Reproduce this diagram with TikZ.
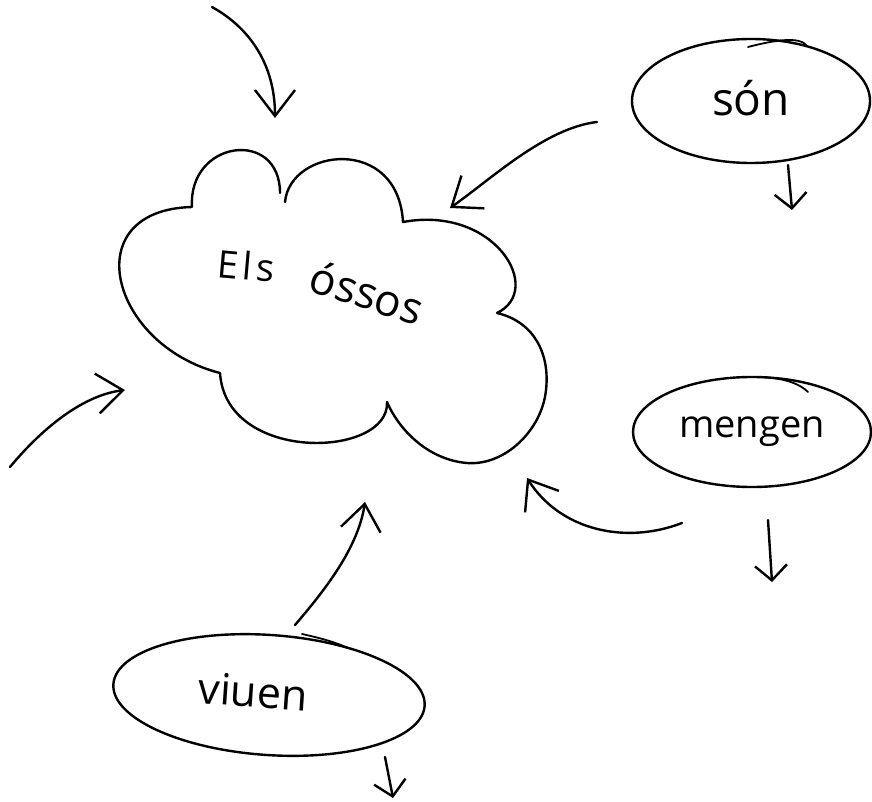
\documentclass[tikz,border=0pt]{standalone}
\usepackage{fontspec}
\setmainfont{Open Sans}
\usetikzlibrary{arrows.meta,shapes.geometric}
\begin{document}
\begin{tikzpicture}[x=1pt,y=-1pt,
  pen/.style={line width=2.4pt, line cap=round, line join=round},
  bigarr/.style={pen, -{Straight Barb[length=26pt,width=40pt]}},
  downarr/.style={pen, -{Straight Barb[length=15pt,width=32pt]}},
  bubble/.style={pen, draw, ellipse, inner sep=0pt},
  word/.style={font=\fontsize{38}{40}\selectfont, inner sep=0pt}]
\fill[white] (0,0) rectangle (872,802);
\useasboundingbox (0,0) rectangle (872,802);

% cloud
\draw[pen] (192,207) .. controls (188,140) and (280,128) .. (280,193)
  (285,202) .. controls (290,148) and (398,135) .. (403,222)
  .. controls (495,205) and (545,290) .. (497,313)
  .. controls (535,322) and (550,355) .. (546,390)
  .. controls (542,430) and (505,466) .. (467,463)
  .. controls (430,460) and (400,432) .. (387,402)
  .. controls (390,458) and (226,464) .. (220,373)
  .. controls (110,345) and (75,210) .. (192,207);
\node[word, font=\fontsize{38}{40}\selectfont\addfontfeature{LetterSpace=12}, rotate=-5, anchor=base] (els) at (245,280) {Els};
\node[word, font=\fontsize{44}{46}\selectfont, rotate=-18, anchor=base] (ossos) at (362,308) {óssos};

% ellipses
\node[bubble, minimum width=238pt, minimum height=124pt, word, font=\fontsize{46}{48}\selectfont] (son) at (751,101) {\raisebox{7pt}{són}};
\node[bubble, minimum width=238pt, minimum height=110pt, word] (mengen) at (752,432) {mengen};
\node[bubble, minimum width=312pt, minimum height=120pt, rotate=-4, word, font=\fontsize{43}{45}\selectfont] (viuen) at (269,695) {\raisebox{5pt}{viuen}\hspace*{32pt}};

% pen overlaps on ellipses
\draw[pen, line width=1.8pt] (748,47) .. controls (775,40) and (800,36) .. (807,46);
\draw[pen, line width=1.8pt] (760,377) .. controls (785,378) and (800,384) .. (808,392);
\draw[pen, line width=1.8pt] (302,634) .. controls (320,638) and (335,642) .. (348,648);

% free ends
\coordinate (t0) at (212,7);
\coordinate (t1) at (275,118);
\coordinate (s0) at (597,122);
\coordinate (s1) at (450,208);
\coordinate (m0) at (682,523);
\coordinate (m1) at (527,478);
\coordinate (v0) at (295,625);
\coordinate (v1) at (365,502);
\coordinate (l0) at (10,467);
\coordinate (l1) at (125,390);
\coordinate (sd0) at (788,165);
\coordinate (sd1) at (792,210);
\coordinate (md0) at (768,520);
\coordinate (md1) at (772,582);
\coordinate (vd0) at (385,757);
\coordinate (vd1) at (393,798);

% arrows
\draw[bigarr] (t0) .. controls (250,28) and (275,65) .. (t1);
\draw[bigarr] (s0) .. controls (545,128) and (490,180) .. (s1);
\draw[bigarr] (m0) .. controls (625,545) and (560,530) .. (m1);
\draw[bigarr] (v0) .. controls (325,590) and (358,548) .. (v1);
\draw[bigarr] (l0) .. controls (45,425) and (85,395) .. (l1);
\draw[downarr] (sd0) -- (sd1);
\draw[downarr] (md0) -- (md1);
\draw[downarr] (vd0) -- (vd1);
\end{tikzpicture}
\end{document}
